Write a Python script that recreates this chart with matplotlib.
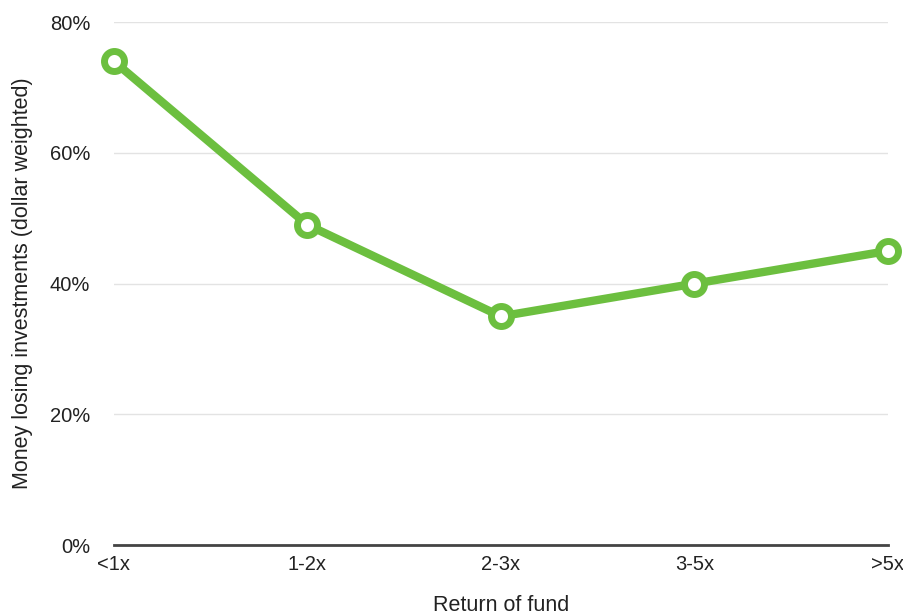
import matplotlib.pyplot as plt
from matplotlib.ticker import FuncFormatter

plt.rcParams["font.family"] = ["Liberation Sans", "DejaVu Sans"]

# --- data ---
CATEGORIES = ["<1x", "1-2x", "2-3x", "3-5x", ">5x"]
LOSING_PCT = [74, 49, 35, 40, 45]
Y_TICKS = [0, 20, 40, 60, 80]

GREEN = "#6cbf3f"

fig = plt.figure(figsize=(9.04, 6.14), dpi=100)
ax = fig.add_axes([0.126, 0.112, 0.856, 0.852])

x = range(len(CATEGORIES))
ax.plot(
    x,
    LOSING_PCT,
    "-o",
    color=GREEN,
    linewidth=6,
    markersize=14.4,
    markerfacecolor="white",
    markeredgecolor=GREEN,
    markeredgewidth=5,
    clip_on=False,
    zorder=3,
)

ax.set_xlim(0, len(CATEGORIES) - 1)
ax.set_ylim(0, 80)
ax.set_xticks(list(x))
ax.set_xticklabels(CATEGORIES)
ax.set_yticks(Y_TICKS)
ax.yaxis.set_major_formatter(FuncFormatter(lambda v, _: f"{v:.0f}%"))

ax.grid(axis="y", color="#e3e3e3", linewidth=1)
ax.set_axisbelow(True)
for side in ["top", "right", "left"]:
    ax.spines[side].set_visible(False)
ax.spines["bottom"].set_color("#444444")
ax.spines["bottom"].set_linewidth(2)

ax.tick_params(axis="both", length=0, labelsize=14.5, colors="#222222")
ax.tick_params(axis="y", pad=17)
ax.tick_params(axis="x", pad=7)

ax.set_xlabel("Return of fund", fontsize=15.5, color="#222222", labelpad=15)
ax.set_ylabel(
    "Money losing investments (dollar weighted)",
    fontsize=15.5,
    color="#222222",
    labelpad=12,
)

fig.savefig("out.png", dpi=100)
